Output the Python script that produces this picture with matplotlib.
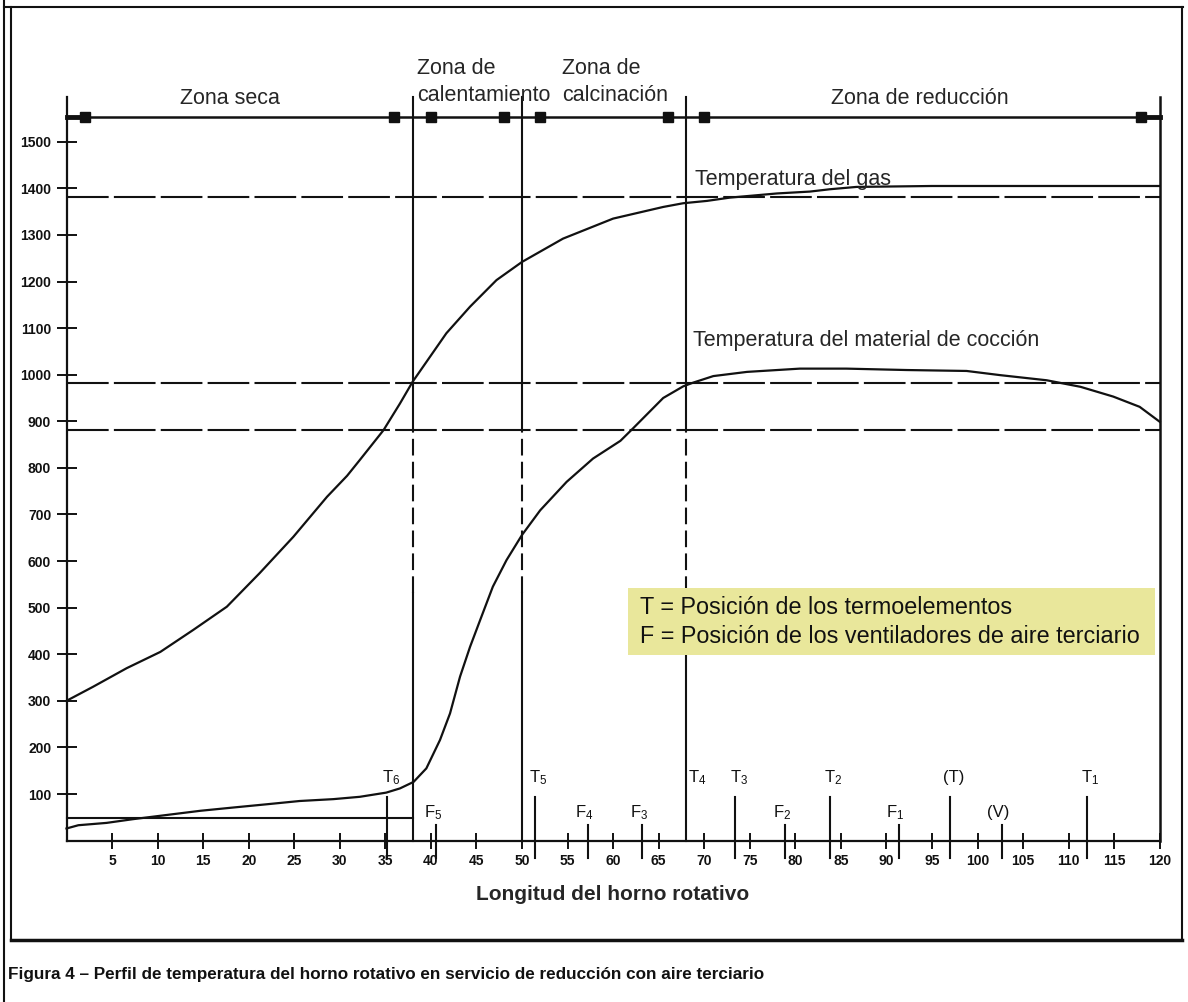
import numpy as np
import matplotlib.pyplot as plt
from matplotlib.lines import Line2D
from matplotlib.patches import Rectangle

plt.rcParams['font.family'] = ['Liberation Sans', 'DejaVu Sans']
plt.rcParams['mathtext.default'] = 'regular'

# ---------------- data ----------------
# kiln length [m] vs temperature [°C]
gas_x = [0, 2.9, 6.6, 10.3, 13.9, 17.6, 21.2, 24.9, 28.6, 30.8, 32.2, 34.8, 36.6, 38.0,
         41.7, 44.3, 47.2, 50.0, 54.5, 60.0, 65.5, 67.7, 70.3, 72.8, 78.0, 81.6, 83.8,
         86.7, 95.0, 105.0, 120.0]
gas_t = [300, 330, 370, 405, 452, 502, 574, 652, 738, 783, 817, 881, 938, 985,
         1089, 1146, 1203, 1242, 1292, 1335, 1360, 1368, 1373, 1380, 1389, 1393, 1398,
         1403, 1405, 1405, 1405]

mat_x = [0, 1.3, 4.4, 7.3, 11.0, 14.7, 18.3, 22.0, 25.6, 29.3, 32.2, 35.1, 36.6, 38.1,
         39.5, 41.0, 42.1, 43.2, 44.3, 45.4, 46.8, 48.3, 50.0, 52.0, 54.9, 57.8, 60.8,
         62.2, 65.5, 67.7, 68.8, 71.0, 74.7, 80.5, 85.6, 92.2, 98.8, 102.5, 107.6, 111.3,
         114.9, 117.8, 120.0]
mat_t = [26, 33, 38, 46, 55, 64, 71, 78, 85, 89, 94, 103, 112, 126,
         155, 216, 273, 352, 416, 473, 545, 602, 656, 709, 770, 820, 858,
         885, 950, 975, 983, 997, 1006, 1013, 1013, 1010, 1008, 999, 988, 974,
         953, 931, 899]

# reference temperatures (horizontal lines)
ref_levels = [1382, 982, 882]
low_level = 48          # short line at the feed end, up to the first zone boundary

# zones
zone_bounds = [0, 38, 50, 68, 120]
zone_names = ['Zona seca', 'Zona de\ncalentamiento', 'Zona de\ncalcinación', 'Zona de reducción']
zone_marks = [2, 36, 40, 48, 52, 66, 70, 118]

# thermocouples (T) and tertiary air fans (F)
t_pos = [35.2, 51.4, 68.0, 73.4, 83.8, 97.0, 112.0]
t_labels = ['T$_6$', 'T$_5$', 'T$_4$', 'T$_3$', 'T$_2$', '(T)', 'T$_1$']
f_pos = [40.6, 57.2, 63.2, 78.9, 91.4, 102.7]
f_labels = ['F$_5$', 'F$_4$', 'F$_3$', 'F$_2$', 'F$_1$', '(V)']

legend_lines = ['T = Posición de los termoelementos',
                'F = Posición de los ventiladores de aire terciario']

x_ticks = list(range(5, 121, 5))
y_ticks = list(range(100, 1501, 100))

INK = '#111111'
TXT = '#262626'

# ---------------- figure ----------------
W, H = 1188, 1002
fig = plt.figure(figsize=(W / 100, H / 100), dpi=100)
ax = fig.add_axes([66.5 / W, (H - 840.6) / H, 1093.2 / W, 743.6 / H])
ax.set_xlim(0, 120)
ax.set_ylim(0, 1596)
ax.set_facecolor('none')

for s in ['top', 'right']:
    ax.spines[s].set_visible(False)
for s in ['left', 'bottom']:
    ax.spines[s].set_linewidth(1.6)
    ax.spines[s].set_color(INK)

ax.set_xticks(x_ticks)
ax.set_yticks(y_ticks)
ax.tick_params(axis='x', direction='inout', length=12, width=1.4, pad=4,
               labelsize=10, colors=INK)
ax.tick_params(axis='y', direction='inout', length=14, width=1.4, pad=4,
               labelsize=10, colors=INK)
for lab in ax.get_xticklabels() + ax.get_yticklabels():
    lab.set_fontweight('bold')

ax.set_xlabel('Longitud del horno rotativo', fontsize=15, fontweight='bold',
              color=TXT, labelpad=12)

dash_h = (0, (20, 2.5))
dash_v = (0, (8, 3))

# horizontal reference lines
for lv in ref_levels:
    ax.plot([0, 120], [lv, lv], color=INK, lw=1.5, ls=dash_h, clip_on=False)
ax.plot([0, zone_bounds[1]], [low_level, low_level], color=INK, lw=1.5, clip_on=False)

# zone boundaries (dashed between ~530 and 880)
for b in zone_bounds[1:4]:
    ax.plot([b, b], [0, 531], color=INK, lw=1.5, clip_on=False)
    ax.plot([b, b], [531, 882], color=INK, lw=1.5, ls=dash_v, clip_on=False)
    ax.plot([b, b], [882, 1595], color=INK, lw=1.5, clip_on=False)
ax.plot([120, 120], [0, 1595], color=INK, lw=1.8, clip_on=False)

# zone dimension bar
ax.plot([0, 120], [1553, 1553], color=INK, lw=1.8, clip_on=False)
ax.plot(zone_marks, [1553] * len(zone_marks), ls='none', marker='s', ms=7,
        color=INK, clip_on=False)
ax.plot([0, zone_marks[0]], [1553, 1553], color=INK, lw=3.5, clip_on=False)
ax.plot([zone_marks[-1], 120], [1553, 1553], color=INK, lw=3.5, clip_on=False)

ax.text(17.9, 1593, zone_names[0], ha='center', va='center', fontsize=15.5, color=TXT,
        clip_on=False)
ax.text(38.5, 1628, zone_names[1], ha='left', va='center', fontsize=15.5, color=TXT,
        linespacing=1.35, clip_on=False)
ax.text(54.4, 1628, zone_names[2], ha='left', va='center', fontsize=15.5, color=TXT,
        linespacing=1.35, clip_on=False)
ax.text(93.7, 1593, zone_names[3], ha='center', va='center', fontsize=15.5, color=TXT,
        clip_on=False)

# temperature curves
ax.plot(gas_x, gas_t, color=INK, lw=1.6, clip_on=False)
ax.plot(mat_x, mat_t, color=INK, lw=1.6, clip_on=False)
ax.text(69.0, 1418, 'Temperatura del gas', ha='left', va='center', fontsize=15.5, color=TXT)
ax.text(68.8, 1074, 'Temperatura del material de cocción', ha='left', va='center',
        fontsize=15.5, color=TXT)

# T / F positions
for p, lab in zip(t_pos, t_labels):
    if p not in zone_bounds:
        ax.plot([p, p], [-37, 94], color=INK, lw=1.5, clip_on=False)
    dx = 1.2 if p in zone_bounds else 0.4
    ax.text(p + dx, 135, lab, ha='center', va='center', fontsize=12, color=INK)
for p, lab in zip(f_pos, f_labels):
    ax.plot([p, p], [-37, 33], color=INK, lw=1.5, clip_on=False)
    ax.text(p - 0.4, 61, lab, ha='center', va='center', fontsize=12, color=INK)

# legend box
ax.add_patch(Rectangle((61.6, 398), 57.9, 144, facecolor='#e9e79b', edgecolor='none',
                       zorder=3))
ax.text(62.9, 501, legend_lines[0], ha='left', va='center',
        fontsize=16.8, color=INK, zorder=4)
ax.text(62.9, 439, legend_lines[1], ha='left',
        va='center', fontsize=16.8, color=INK, zorder=4)

# page frame
def fline(x0, y0, x1, y1, lw=1.5):
    fig.add_artist(Line2D([x0 / W, x1 / W], [1 - y0 / H, 1 - y1 / H], color=INK, lw=lw))

fline(4, 0, 4, H)
fline(4, 7, 1183, 7)
fline(11, 7, 11, 940)
fline(1182, 7, 1182, 940)
fline(11, 940, 1182, 940, lw=2.5)

fig.text(8 / W, 1 - 975 / H,
         'Figura 4 – Perfil de temperatura del horno rotativo en servicio de reducción con aire terciario',
         ha='left', va='center', fontsize=12.3, fontweight='bold', color=INK)

fig.savefig('out.png', dpi=100)
